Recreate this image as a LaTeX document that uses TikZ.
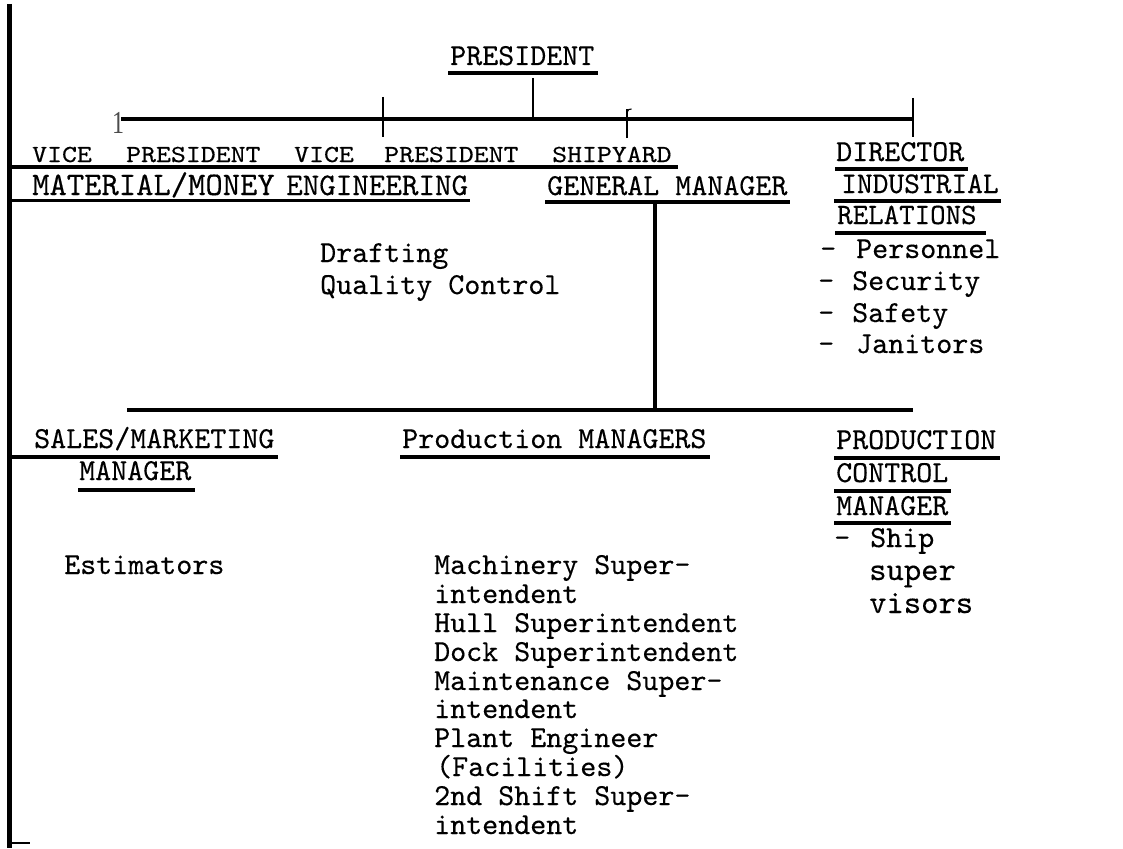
\documentclass[tikz,border=0pt]{standalone}
\usepackage{fontspec}
\usepackage{graphicx}
\setmonofont{lmmono10-regular.otf}[FakeBold=0.3]
\newfontfamily\serifone{Liberation Serif}
\tikzset{
  lbl/.style={inner sep=0pt, anchor=base west, font=\fontsize{30.5}{32}\selectfont\ttfamily},
  lblbig/.style={lbl, font=\fontsize{33}{34}\selectfont\ttfamily},
  smallcap/.style={inner sep=0pt, anchor=base west, font=\fontsize{24.5}{28}\selectfont\ttfamily},
  uline/.style={line width=3.2pt},
  bar/.style={line width=4pt},
  tick/.style={line width=1.1pt},
}
\newcommand{\wide}[1]{\scalebox{1.16}[1]{#1}}
\begin{document}
\begin{tikzpicture}[x=1pt,y=-1pt]
\useasboundingbox (0,0) rectangle (1123,848);
% left border
\draw[line width=4.5pt] (9.5,4) -- (9.5,848);
\draw[line width=2pt] (12,843) -- (30,843);

% President
\node[lbl] (pres) at (450,65) {PRESIDENT};
\draw[uline] (448,73) -- (598,73);
\coordinate (presfoot) at (533,78);
\coordinate (barL) at (121,119);
\coordinate (barR) at (913,119);
\coordinate (barC) at (533,119);
\draw[bar] (barL) -- (barR);
\draw[tick] (presfoot) -- (barC);
\node[inner sep=0pt, anchor=base, font=\fontsize{32}{32}\selectfont\serifone, text=black!70, xscale=0.75] (one) at (118,133) {1};
\draw[tick] (383,97) -- (383,137);
\draw[tick] (627,138) -- (627,109);
\draw[tick] (627,113) .. controls (628,109.5) and (629.5,108.5) .. (631.5,109);
\draw[tick] (913,98) -- (913,137);

% second row (small)
\node[smallcap] (vp1a) at (32,162) {\wide{VICE}};
\node[smallcap] (vp1b) at (126,162) {\wide{PRESIDENT}};
\node[smallcap] (vp2a) at (294,162) {\wide{VICE}};
\node[smallcap] (vp2b) at (384,162) {\wide{PRESIDENT}};
\node[smallcap] (ship) at (552,162) {\wide{SHIPYARD}};
\draw[uline] (9.5,167) -- (678,167);

% third row
\node[lblbig] (mat) at (32,195) {MATERIAL/MONEY};
\node[lbl, font=\fontsize{31.5}{32}\selectfont\ttfamily] (eng) at (286,195) {ENGINEERING};
\draw[uline] (9.5,200.5) -- (470,200.5);
\node[lbl] (gm) at (547,195) {GENERAL MANAGER};
\draw[uline] (545,202) -- (790,202);

% director
\node[lbl] (dir) at (836,161) {DIRECTOR};
\draw[uline] (835,169) -- (968,169);
\node[lbl, font=\fontsize{30}{32}\selectfont\ttfamily] (ind) at (841,193) {INDUSTRIAL};
\draw[uline] (834,201) -- (1001,201);
\node[lbl, font=\fontsize{29.5}{32}\selectfont\ttfamily] (rel) at (837,224) {RELATIONS};
\draw[uline] (835,233) -- (986,233);
\node[lbl] (d1) at (820,258) {-};
\node[lbl] (pers) at (856,258) {Personnel};
\node[lbl] (d2) at (818,290) {-};
\node[lbl] (secu) at (852,290) {Security};
\node[lbl] (d3) at (818,322) {-};
\node[lbl] (safe) at (852,322) {Safety};
\node[lbl] (d4) at (818,353) {-};
\node[lbl] (jan) at (856,353) {Janitors};

% engineering items
\node[lbl] (draft) at (320,262) {Drafting};
\node[lbl] (qc) at (320,294) {Quality Control};

% GM to lower bar
\coordinate (gmfoot) at (655,202);
\coordinate (lbarC) at (655,410);
\coordinate (lbarL) at (127,410);
\coordinate (lbarR) at (913,410);
\draw[bar] (gmfoot) -- (lbarC);
\draw[bar] (lbarL) -- (lbarR);

% sales
\node[lbl] (sales) at (34,448) {SALES/MARKETING};
\draw[uline] (9.5,457) -- (278,457);
\node[lbl] (salesmgr) at (79,480) {MANAGER};
\draw[uline] (78,490) -- (195,490);
\node[lbl] (est) at (64,574) {Estimators};

% production managers
\node[lbl] (prod) at (402,448) {Production MANAGERS};
\draw[uline] (400,457) -- (710,457);
\node[lbl] (p1) at (434,574) {Machinery Super-};
\node[lbl] (p2) at (434,603) {intendent};
\node[lbl] (p3) at (434,632) {Hull Superintendent};
\node[lbl] (p4) at (434,661) {Dock Superintendent};
\node[lbl] (p5) at (434,690) {Maintenance Super-};
\node[lbl] (p6) at (434,718) {intendent};
\node[lbl] (p7) at (434,747) {Plant Engineer};
\node[lbl] (p8) at (436,776) {(Facilities)};
\node[lbl] (p9) at (434,805) {2nd Shift Super-};
\node[lbl] (p10) at (434,834) {intendent};

% production control
\node[lbl] (pc1) at (836,449) {PRODUCTION};
\draw[uline] (834,458) -- (1000,458);
\node[lbl] (pc2) at (836,482) {CONTROL};
\draw[uline] (834,491) -- (951,491);
\node[lbl] (pc3) at (836,515) {MANAGER};
\draw[uline] (834,523) -- (951,523);
\node[lbl] (d5) at (834,547) {-};
\node[lbl] (ship1) at (870,547) {Ship};
\node[lbl, font=\fontsize{33}{34}\selectfont\ttfamily] (ship2) at (869,580) {super};
\node[lbl, font=\fontsize{33}{34}\selectfont\ttfamily] (ship3) at (869,613) {visors};
\end{tikzpicture}
\end{document}
